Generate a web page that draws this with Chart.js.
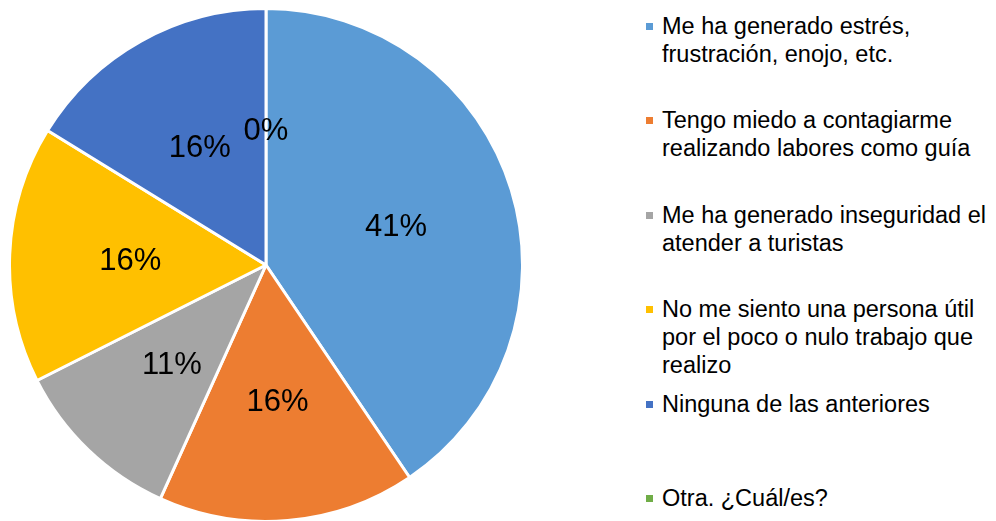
<!DOCTYPE html>
<html>
<head>
<meta charset="utf-8">
<script src="https://cdn.jsdelivr.net/npm/chart.js@4/dist/chart.umd.min.js"></script>
<style>
  html, body { margin: 0; padding: 0; background: #ffffff; }
  body { width: 996px; height: 521px; position: relative; overflow: hidden; font-family: "Liberation Sans", Arial, sans-serif; }
  #pieBox { position: absolute; left: 8px; top: 7px; width: 516px; height: 516px; }
  #legend { position: absolute; left: 646px; top: 21px; width: 350px; }
  .item { position: relative; height: 94.4px; }
  .mark { position: absolute; left: 0; top: 2px; width: 7px; height: 7px; }
  .txt { position: absolute; left: 16px; top: -9px; font-size: 23.5px; line-height: 28px; color: #000; white-space: nowrap; }
</style>
</head>
<body>
<div id="pieBox"><canvas id="pieChart"></canvas></div>
<div id="legend"></div>
<script>
// Datos del gráfico
const categorias = [
  ['Me ha generado estrés,', 'frustración, enojo, etc.'],
  ['Tengo miedo a contagiarme', 'realizando labores como guía'],
  ['Me ha generado inseguridad el', 'atender a turistas'],
  ['No me siento una persona útil', 'por el poco o nulo trabajo que', 'realizo'],
  ['Ninguna de las anteriores'],
  ['Otra. ¿Cuál/es?']
];
const respuestas = [15, 6, 4, 6, 6, 0];
const colores = ['#5B9BD5', '#ED7D31', '#A5A5A5', '#FFC000', '#4472C4', '#70AD47'];

// Leyenda a la derecha
const legendEl = document.getElementById('legend');
categorias.forEach((lineas, i) => {
  const item = document.createElement('div');
  item.className = 'item';
  const mark = document.createElement('div');
  mark.className = 'mark';
  mark.style.background = colores[i];
  const txt = document.createElement('div');
  txt.className = 'txt';
  txt.innerHTML = lineas.join('<br>');
  item.appendChild(mark);
  item.appendChild(txt);
  legendEl.appendChild(item);
});

// Etiquetas de porcentaje dentro de cada sector
const etiquetasPorcentaje = {
  id: 'etiquetasPorcentaje',
  afterDatasetsDraw(chart) {
    const ctx = chart.ctx;
    const meta = chart.getDatasetMeta(0);
    const data = chart.data.datasets[0].data;
    const total = data.reduce((a, b) => a + b, 0);
    ctx.save();
    ctx.font = '31px "Liberation Sans", Arial, sans-serif';
    ctx.fillStyle = '#000000';
    ctx.textAlign = 'center';
    ctx.textBaseline = 'middle';
    meta.data.forEach((arc, i) => {
      const p = arc.getProps(['x', 'y', 'startAngle', 'endAngle', 'outerRadius']);
      const mid = (p.startAngle + p.endAngle) / 2;
      const r = p.outerRadius * 0.53;
      const pct = Math.round(data[i] / total * 100) + '%';
      ctx.fillText(pct, p.x + Math.cos(mid) * r, p.y + Math.sin(mid) * r + 2);
    });
    ctx.restore();
  }
};

new Chart(document.getElementById('pieChart'), {
  type: 'pie',
  data: {
    labels: categorias.map(l => l.join(' ')),
    datasets: [{
      data: respuestas,
      backgroundColor: colores,
      borderColor: '#ffffff',
      borderWidth: 3
    }]
  },
  options: {
    responsive: true,
    maintainAspectRatio: false,
    animation: false,
    plugins: {
      legend: { display: false },
      tooltip: { enabled: false }
    }
  },
  plugins: [etiquetasPorcentaje]
});
</script>
</body>
</html>
